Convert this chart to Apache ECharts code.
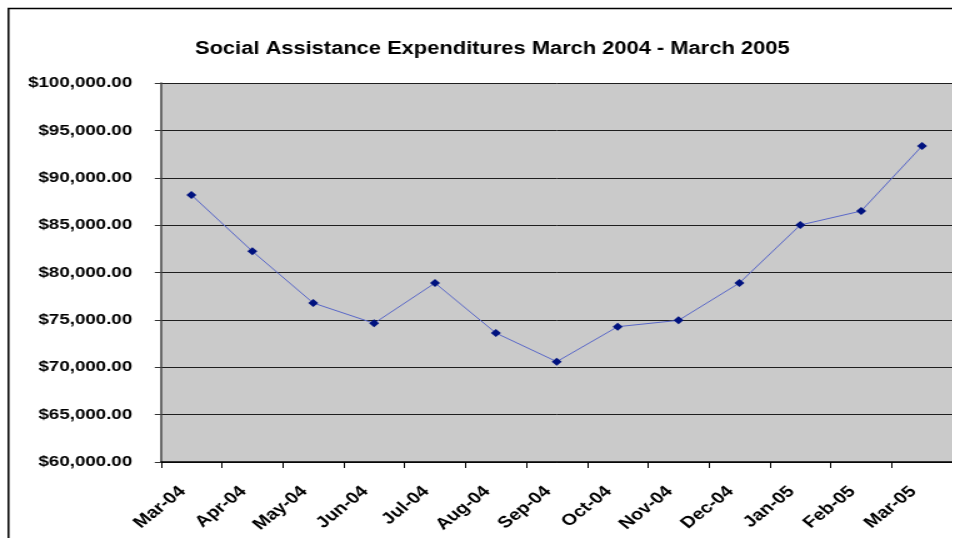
<!DOCTYPE html>
<html>
<head>
<meta charset="utf-8">
<script src="https://cdn.jsdelivr.net/npm/echarts@6/dist/echarts.min.js"></script>
<style>
  html, body { margin: 0; padding: 0; background: #fff; overflow: hidden; }
  /* the chart is laid out narrower and widened horizontally, giving the wide lettering */
  #chart { width: 762.4px; height: 538px; transform: scaleX(1.25); transform-origin: 0 0; }
</style>
</head>
<body>
<div id="chart"></div>
<script>
// Monthly social assistance expenditures, March 2004 to March 2005
const months = ['Mar-04', 'Apr-04', 'May-04', 'Jun-04', 'Jul-04', 'Aug-04', 'Sep-04',
                'Oct-04', 'Nov-04', 'Dec-04', 'Jan-05', 'Feb-05', 'Mar-05'];
const expenditures = [88180, 82240, 76780, 74640, 78890, 73610, 70590,
                      74280, 74950, 78890, 85010, 86490, 93350];
const yTicks = [60000, 65000, 70000, 75000, 80000, 85000, 90000, 95000, 100000];

const SX = 1.25; // horizontal widening applied by CSS

function money(v) {
  const s = Math.round(v).toString().replace(/\B(?=(\d{3})+(?!\d))/g, ',');
  return '$' + s + '.00';
}

const chart = echarts.init(document.getElementById('chart'));
const font = 'Liberation Sans, Arial, sans-serif';

chart.setOption({
  animation: false,
  backgroundColor: '#ffffff',
  title: {
    text: 'Social Assistance Expenditures March 2004 - March 2005',
    left: 486 / SX,
    textAlign: 'center',
    top: 35,
    textStyle: { fontFamily: font, fontSize: 17.5, fontWeight: 'bold', color: '#000' }
  },
  graphic: [{
    type: 'rect',
    shape: { x: 8.5 / SX, y: 8.5, width: 1000, height: 600 },
    style: { fill: 'none', stroke: '#000', lineWidth: 1.5 },
    silent: true,
    z: 100
  }],
  grid: {
    left: 161 / SX, right: (953 - 956) / SX, top: 83, bottom: 76,
    show: true, backgroundColor: '#cacaca', borderWidth: 0
  },
  xAxis: {
    type: 'category',
    data: months,
    boundaryGap: true,
    axisLine: { lineStyle: { color: '#000', width: 1.5 } },
    axisTick: { show: true, length: 6, lineStyle: { color: '#000' } },
    axisLabel: {
      rotate: 45, margin: 20, padding: [0, 10, 0, 0],
      fontFamily: font, fontSize: 16, fontWeight: 'bold', color: '#000'
    }
  },
  yAxis: {
    type: 'value',
    min: yTicks[0], max: yTicks[yTicks.length - 1], interval: 5000,
    axisLine: { show: true, lineStyle: { color: '#444', width: 1.5 } },
    axisTick: { show: true, length: 5, lineStyle: { color: '#333' } },
    splitLine: { show: true, lineStyle: { color: '#1e1e1e', width: 1 } },
    axisLabel: {
      margin: 23, formatter: money,
      fontFamily: font, fontSize: 15, fontWeight: 'bold', color: '#000'
    }
  },
  series: [{
    type: 'line',
    data: expenditures,
    symbol: 'diamond',
    symbolSize: 8,
    lineStyle: { color: '#5a68c8', width: 1 },
    itemStyle: { color: '#00127f' }
  }]
});
</script>
</body>
</html>
